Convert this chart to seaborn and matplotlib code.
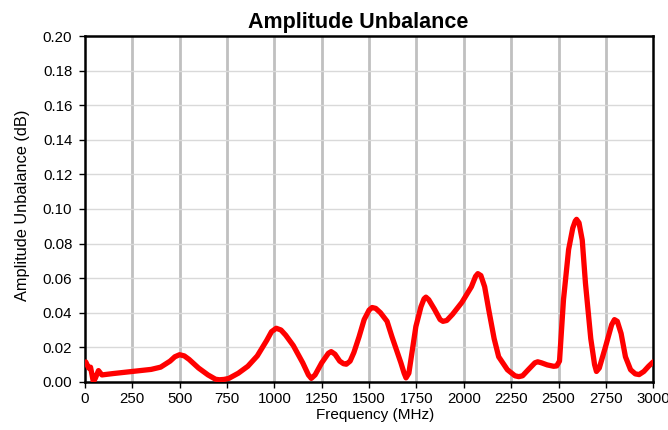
import numpy as np
import pandas as pd
import seaborn as sns
import matplotlib.pyplot as plt

# data
freq_mhz = [5, 20, 30, 45, 55, 72, 90, 150, 250, 350, 400, 450, 475, 500, 525, 550,
            600, 650, 690, 710, 735, 760, 810, 860, 910, 960, 985, 1010, 1035, 1060,
            1100, 1150, 1180, 1195, 1215, 1250, 1285, 1300, 1320, 1345, 1365, 1380,
            1400, 1420, 1447, 1474, 1500, 1516, 1535, 1560, 1595, 1621, 1668, 1685,
            1695, 1710, 1747, 1774, 1790, 1800, 1815, 1845, 1875, 1890, 1910, 1940,
            1990, 2040, 2062, 2074, 2090, 2110, 2131, 2160, 2184, 2230, 2270, 2290,
            2310, 2340, 2375, 2390, 2410, 2440, 2474, 2490, 2505, 2526, 2553, 2575,
            2588, 2595, 2608, 2625, 2642, 2670, 2690, 2700, 2715, 2747, 2780, 2795,
            2810, 2830, 2853, 2880, 2905, 2925, 2950, 2975, 3000]
unbalance_db = [0.0115, 0.008, 0.0085, 0.000, 0.002, 0.0065, 0.004, 0.0048, 0.006,
                0.0072, 0.0085, 0.012, 0.0145, 0.0157, 0.015, 0.013, 0.008, 0.004,
                0.0015, 0.0012, 0.0014, 0.002, 0.005, 0.009, 0.015, 0.024, 0.029,
                0.031, 0.030, 0.027, 0.021, 0.011, 0.004, 0.002, 0.004, 0.011, 0.0165,
                0.0175, 0.016, 0.012, 0.0105, 0.0102, 0.012, 0.017, 0.026, 0.036,
                0.0415, 0.043, 0.0425, 0.040, 0.035, 0.026, 0.011, 0.005, 0.0023,
                0.005, 0.032, 0.0435, 0.048, 0.049, 0.0475, 0.042, 0.036, 0.035,
                0.0355, 0.039, 0.046, 0.055, 0.061, 0.0626, 0.0615, 0.055, 0.042,
                0.025, 0.0145, 0.007, 0.0035, 0.003, 0.0035, 0.007, 0.011, 0.0116,
                0.011, 0.0098, 0.009, 0.0092, 0.012, 0.0475, 0.0765, 0.089, 0.093,
                0.094, 0.092, 0.082, 0.057, 0.025, 0.010, 0.006, 0.008, 0.020, 0.033,
                0.036, 0.035, 0.028, 0.0145, 0.007, 0.0046, 0.0042, 0.006, 0.009,
                0.0116]

x_ticks = list(range(0, 3001, 250))
y_ticks = [round(0.02 * i, 2) for i in range(11)]

df = pd.DataFrame({'Frequency (MHz)': freq_mhz, 'Amplitude Unbalance (dB)': unbalance_db})

sns.set_style('white')
plt.rcParams['font.family'] = ['Liberation Sans', 'DejaVu Sans']
plt.rcParams['text.color'] = 'black'
plt.rcParams['axes.labelcolor'] = 'black'

fig = plt.figure(figsize=(6.68, 4.30), dpi=100)
ax = fig.add_axes([0.127, 0.112, 0.851, 0.804])

# gridlines: vertical darker/thicker, horizontal light
for x in x_ticks[1:-1]:
    ax.axvline(x, color='#c0c0c0', lw=2, zorder=0)
for y in y_ticks[1:-1]:
    ax.axhline(y, color='#d9d9d9', lw=1, zorder=0)

sns.lineplot(data=df, x='Frequency (MHz)', y='Amplitude Unbalance (dB)',
             color='#ff0000', lw=3.8, ax=ax, zorder=3,
             solid_joinstyle='round', solid_capstyle='round')

ax.set_xlim(0, 3000)
ax.set_ylim(0, 0.20)
ax.set_xticks(x_ticks)
ax.set_yticks(y_ticks)
ax.set_yticklabels([f'{v:.2f}' for v in y_ticks])
ax.tick_params(axis='both', direction='out', length=4, width=1, labelsize=10.8,
               colors='black', bottom=True, left=True)
ax.tick_params(axis='y', pad=5)

for side in ['left', 'bottom', 'top', 'right']:
    ax.spines[side].set_visible(True)
    ax.spines[side].set_color('black')
    ax.spines[side].set_linewidth(1.8)

ax.set_xlabel('Frequency (MHz)', fontsize=11, labelpad=1, color='black', x=0.51)
ax.set_ylabel('Amplitude Unbalance (dB)', fontsize=11.8, labelpad=9, color='black',
              y=0.51)
ax.set_title('Amplitude Unbalance', fontsize=15.5, fontweight='bold', pad=6,
             color='black', x=0.48)

fig.savefig('out.png', dpi=100)
